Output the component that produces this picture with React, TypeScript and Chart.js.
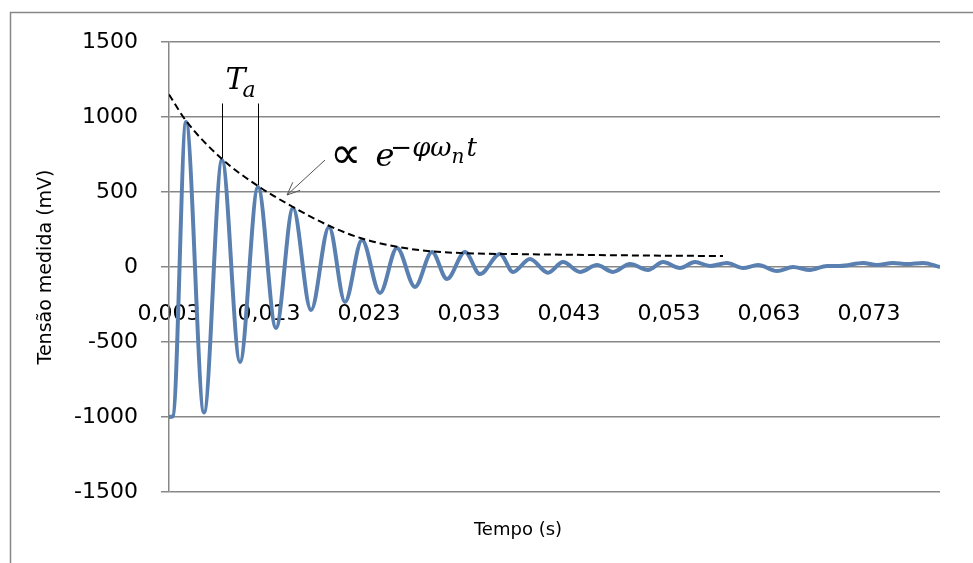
import React, { useEffect, useRef } from 'react';
import { Chart, registerables } from 'chart.js';

Chart.register(...registerables);

// ---- Data ----
const timeS = [
  0.0030, 0.0034, 0.0047, 0.0065, 0.0083, 0.0101, 0.0119, 0.0137, 0.0154, 0.0172,
  0.0190, 0.0206, 0.0223, 0.0241, 0.0258, 0.0276, 0.0293, 0.0308, 0.0326, 0.0341,
  0.0361, 0.0374, 0.0391, 0.0409, 0.0424, 0.0441, 0.0458, 0.0474, 0.0491, 0.0509,
  0.0524, 0.0541, 0.0556, 0.0571, 0.0588, 0.0604, 0.0619, 0.0638, 0.0654, 0.0671,
  0.0688, 0.0701, 0.0724, 0.0738, 0.0754, 0.0768, 0.0784, 0.0801,
];
const tensaoMV = [
  -1000, -995, 967, -970, 713, -633, 533, -407, 393, -287,
  267, -233, 180, -173, 127, -133, 100, -80, 100, -47,
  87, -33, 53, -38, 33, -33, 13, -33, 20, -20,
  33, -7, 33, 7, 27, -7, 13, -27, 0, -20,
  7, 7, 27, 13, 27, 20, 27, 0,
];

const envelopeTimeS = [0.0030, 0.0047, 0.0083, 0.0119, 0.0154, 0.0190, 0.0223, 0.0258, 0.0291, 0.0326, 0.0391, 0.0481, 0.0584];
const envelopeMV = [1150, 975, 720, 540, 400, 275, 190, 135, 105, 92, 85, 78, 73];

const xTickValues = [0.003, 0.013, 0.023, 0.033, 0.043, 0.053, 0.063, 0.073];
const xTickLabels = ['0,003', '0,013', '0,023', '0,033', '0,043', '0,053', '0,063', '0,073'];
const X_MIN = 0.003;
const X_MAX = 0.0801;
const Y_MIN = -1500;
const Y_MAX = 1500;
const Y_STEP = 500;

const Y_TITLE = 'Tensão medida (mV)';
const X_TITLE = 'Tempo (s)';

// annotation anchors (data coordinates)
const TA_PEAK_INDICES = [4, 6];
const TA_TOP_MV = 1090;
const TA_LABEL_MV = 1187;
const EXPR_T = 0.0193;
const EXPR_MV = 673;
const ARROW_TAIL = { t: 0.0186, mv: 713 };
const ARROW_TIP = { t: 0.0148, mv: 480 };
const XTITLE_T = 0.0379;

const GRID = '#878787';
const LINE_BLUE = '#5980b0';

const annotPlugin = {
  id: 'annot',
  beforeDraw(chart: any) {
    const ctx = chart.ctx;
    ctx.save();
    ctx.fillStyle = '#ffffff';
    ctx.fillRect(0, 0, chart.width, chart.height);
    ctx.strokeStyle = GRID;
    ctx.lineWidth = 1.5;
    ctx.strokeRect(10.5, 12.5, chart.width + 20, chart.height + 20);
    ctx.restore();
  },
  afterDraw(chart: any) {
    const ctx = chart.ctx;
    const xs = chart.scales.x;
    const ys = chart.scales.y;
    ctx.save();

    // T_a marker lines
    ctx.strokeStyle = '#000';
    ctx.lineWidth = 1;
    const pxs: number[] = [];
    TA_PEAK_INDICES.forEach((i) => {
      const px = Math.round(xs.getPixelForValue(timeS[i])) + 0.5;
      pxs.push(px);
      ctx.beginPath();
      ctx.moveTo(px, ys.getPixelForValue(TA_TOP_MV));
      ctx.lineTo(px, ys.getPixelForValue(tensaoMV[i]) - 2);
      ctx.stroke();
    });

    // T_a label
    ctx.fillStyle = '#000';
    ctx.textBaseline = 'alphabetic';
    ctx.textAlign = 'left';
    const midX = (pxs[0] + pxs[1]) / 2;
    const baseT = ys.getPixelForValue(TA_LABEL_MV);
    ctx.font = 'italic 30px "DejaVu Serif"';
    const tW = ctx.measureText('T').width;
    ctx.font = 'italic 22px "DejaVu Serif"';
    const aW = ctx.measureText('a').width;
    const startX = midX - (tW - 3 + aW) / 2;
    ctx.font = 'italic 30px "DejaVu Serif"';
    ctx.fillText('T', startX, baseT);
    ctx.font = 'italic 22px "DejaVu Serif"';
    ctx.fillText('a', startX + tW - 3, baseT + 8);

    // proportional-to expression
    let cx = xs.getPixelForValue(EXPR_T);
    const by = ys.getPixelForValue(EXPR_MV);
    ctx.font = '44px "DejaVu Sans"';
    ctx.fillText('∝', cx - 2, by + 2);
    cx += ctx.measureText('∝').width + 12;
    ctx.font = 'italic 32px "DejaVu Serif"';
    ctx.fillText('e', cx, by);
    cx += ctx.measureText('e').width - 4;
    ctx.font = 'italic 26px "DejaVu Serif"';
    ctx.fillText('−φω', cx, by - 10);
    cx += ctx.measureText('−φω').width;
    ctx.font = 'italic 20px "DejaVu Serif"';
    ctx.fillText('n', cx, by - 3);
    cx += ctx.measureText('n').width + 2;
    ctx.font = 'italic 26px "DejaVu Serif"';
    ctx.fillText('t', cx, by - 10);

    // arrow
    const ax0 = xs.getPixelForValue(ARROW_TAIL.t);
    const ay0 = ys.getPixelForValue(ARROW_TAIL.mv);
    const ax1 = xs.getPixelForValue(ARROW_TIP.t);
    const ay1 = ys.getPixelForValue(ARROW_TIP.mv);
    ctx.strokeStyle = '#555';
    ctx.lineWidth = 1;
    ctx.beginPath();
    ctx.moveTo(ax0, ay0);
    ctx.lineTo(ax1, ay1);
    const ang = Math.atan2(ay0 - ay1, ax0 - ax1);
    const hl = 14;
    ctx.moveTo(ax1 + hl * Math.cos(ang - 0.4), ay1 + hl * Math.sin(ang - 0.4));
    ctx.lineTo(ax1, ay1);
    ctx.lineTo(ax1 + hl * Math.cos(ang + 0.4), ay1 + hl * Math.sin(ang + 0.4));
    ctx.stroke();

    // x axis title
    ctx.fillStyle = '#000';
    ctx.font = '18px "DejaVu Sans"';
    ctx.textAlign = 'center';
    ctx.textBaseline = 'middle';
    ctx.fillText(X_TITLE, xs.getPixelForValue(XTITLE_T), chart.chartArea.bottom + 38);

    ctx.restore();
  },
};

export default function App() {
  const canvasRef = useRef<HTMLCanvasElement | null>(null);

  useEffect(() => {
    const canvas = canvasRef.current;
    if (!canvas) return;
    const chart = new Chart(canvas, {
      type: 'line',
      data: {
        datasets: [
          {
            label: 'Envelope',
            data: envelopeTimeS.map((t, i) => ({ x: t, y: envelopeMV[i] })),
            borderColor: '#000',
            borderWidth: 2,
            borderDash: [7, 4],
            pointRadius: 0,
            cubicInterpolationMode: 'monotone',
            fill: false,
            order: 0,
          },
          {
            label: 'Tensão',
            data: timeS.map((t, i) => ({ x: t, y: tensaoMV[i] })),
            borderColor: LINE_BLUE,
            borderWidth: 4,
            pointRadius: 0,
            cubicInterpolationMode: 'monotone',
            fill: false,
            order: 1,
          },
        ],
      },
      options: {
        responsive: false,
        maintainAspectRatio: false,
        animation: false,
        events: [],
        layout: { padding: { left: 0, top: 42, right: 33, bottom: 71 } },
        plugins: {
          legend: { display: false },
          tooltip: { enabled: false },
        },
        scales: {
          x: {
            type: 'linear',
            position: { y: 0 } as any,
            min: X_MIN,
            max: X_MAX,
            grid: { display: false },
            border: { display: false },
            afterBuildTicks: (scale: any) => {
              scale.ticks = xTickValues.map((v) => ({ value: v }));
            },
            afterFit: (scale: any) => {
              scale.height = 0;
            },
            ticks: {
              autoSkip: false,
              maxRotation: 0,
              minRotation: 0,
              padding: 26,
              color: '#000',
              font: { family: '"DejaVu Sans"', size: 22 },
              callback: (_v: any, i: number) => xTickLabels[i],
            },
          },
          y: {
            type: 'linear',
            position: 'left',
            min: Y_MIN,
            max: Y_MAX,
            afterFit: (scale: any) => {
              scale.width = 169;
            },
            grid: { color: GRID, lineWidth: 1.5, drawTicks: true, tickLength: 8, tickColor: GRID },
            border: { display: true, color: GRID, width: 1.5 },
            ticks: {
              stepSize: Y_STEP,
              padding: 23,
              color: '#000',
              font: { family: '"DejaVu Sans"', size: 22 },
              callback: (v: any) => String(v),
            },
            title: {
              display: true,
              text: Y_TITLE,
              color: '#000',
              font: { family: '"DejaVu Sans"', size: 19 },
              padding: { top: 35, bottom: 0 },
            },
          },
        },
      },
      plugins: [annotPlugin],
    } as any);
    return () => chart.destroy();
  }, []);

  return (
    <div style={{ position: 'absolute', left: 0, top: 0, width: 973, height: 563 }}>
      <canvas ref={canvasRef} width={973} height={563} style={{ display: 'block' }} />
    </div>
  );
}
